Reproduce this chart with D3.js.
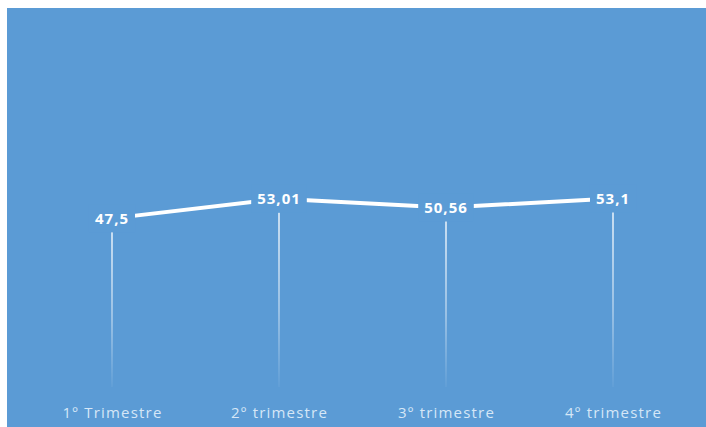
<!DOCTYPE html>
<html>
<head>
<meta charset="utf-8">
<script src="https://cdn.jsdelivr.net/npm/d3@7"></script>
<style>
  html, body { margin: 0; padding: 0; background: #ffffff; }
  svg { display: block; }
</style>
</head>
<body>
<svg id="chart" width="706" height="427"></svg>
<script>
const categories = ["1º Trimestre", "2º trimestre", "3º trimestre", "4º trimestre"];
const values = [47.5, 53.01, 50.56, 53.1];
const valueLabels = ["47,5", "53,01", "50,56", "53,1"];

const W = 706, H = 427;
const bg = "#5B9BD5";
const svg = d3.select("#chart");

// chart area background
svg.append("rect").attr("x", 7).attr("y", 8).attr("width", W - 7).attr("height", H - 8).attr("fill", bg);

const x = d3.scalePoint().domain(categories).range([112, 613]);
const y = d3.scaleLinear().domain([0, 60]).range([387, 174]);

const defs = svg.append("defs");
const grad = defs.append("linearGradient").attr("id", "drop").attr("x1", 0).attr("y1", 0).attr("x2", 0).attr("y2", 1);
grad.append("stop").attr("offset", "0%").attr("stop-color", "#ffffff").attr("stop-opacity", 0.95);
grad.append("stop").attr("offset", "60%").attr("stop-color", "#ffffff").attr("stop-opacity", 0.5);
grad.append("stop").attr("offset", "100%").attr("stop-color", "#ffffff").attr("stop-opacity", 0.05);

const data = categories.map((c, i) => ({ c, v: values[i], label: valueLabels[i] }));

// drop lines
svg.append("g").selectAll("rect").data(data).join("rect")
  .attr("x", d => x(d.c) - 0.75)
  .attr("y", d => y(d.v))
  .attr("width", 1.5)
  .attr("height", d => y(0) - y(d.v))
  .attr("fill", "url(#drop)");

// line
svg.append("path").datum(data)
  .attr("fill", "none").attr("stroke", "#ffffff").attr("stroke-width", 4)
  .attr("d", d3.line().x(d => x(d.c)).y(d => y(d.v)));

// data labels with background boxes
const lg = svg.append("g").selectAll("g").data(data).join("g")
  .attr("transform", d => `translate(${x(d.c)},${y(d.v)})`);
const texts = lg.append("text")
  .attr("text-anchor", "middle").attr("dy", "0.36em")
  .attr("font-family", "'Open Sans', sans-serif").attr("font-weight", "bold")
  .attr("font-size", 15).attr("letter-spacing", "1px").attr("fill", "#ffffff")
  .text(d => d.label);
texts.each(function () {
  const b = this.getBBox();
  d3.select(this.parentNode).insert("rect", "text")
    .attr("x", b.x - 6).attr("y", -14).attr("width", b.width + 12).attr("height", 28)
    .attr("fill", bg);
});

// category axis labels
const xAxis = svg.append("g").attr("transform", "translate(0,413)")
  .call(d3.axisBottom(x).tickSize(0).tickPadding(0));
xAxis.select(".domain").remove();
xAxis.selectAll("text")
  .attr("dy", "0.35em")
  .attr("font-family", "'Open Sans', sans-serif").attr("font-size", 15)
  .attr("letter-spacing", "1.2px")
  .attr("fill", "#D6E7F7");
</script>
</body>
</html>
